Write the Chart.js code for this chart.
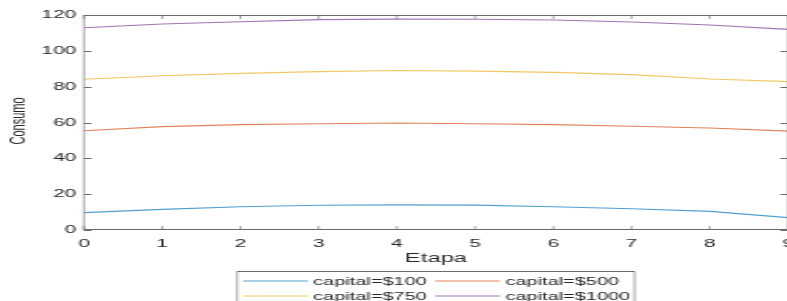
<!DOCTYPE html>
<html>
<head>
<meta charset="utf-8">
<script src="https://cdn.jsdelivr.net/npm/chart.js@4.4.1/dist/chart.umd.min.js"></script>
<style>
  html, body { margin: 0; padding: 0; background: #fff; overflow: hidden; }
  #wrap { width: 787px; height: 301px; overflow: hidden; }
  /* the original figure is stretched sideways, so draw narrow and stretch */
  #myChart { display: block; transform: scaleX(1.9); transform-origin: 0 0; }
</style>
</head>
<body>
<div id="wrap"><canvas id="myChart" width="420" height="301"></canvas></div>
<script>
// values
const etapas = [0, 1, 2, 3, 4, 5, 6, 7, 8, 9];
const consumo100 = [9.7, 11.5, 13.0, 13.8, 14.0, 13.9, 13.0, 11.9, 10.4, 6.9];
const consumo500 = [55.4, 57.7, 58.8, 59.3, 59.7, 59.3, 58.8, 57.9, 56.9, 55.2];
const consumo750 = [84.1, 86.1, 87.4, 88.4, 89.0, 88.7, 88.0, 86.7, 84.3, 82.8];
const consumo1000 = [112.9, 115.0, 116.2, 117.4, 117.7, 117.6, 117.2, 116.1, 114.4, 112.0];
const yTicks = [0, 20, 40, 60, 80, 100, 120];

const axisColor = '#6a6a6a';
const textColor = '#262626';
const fontFam = '"Liberation Sans", Arial, sans-serif';

function pts(vals) {
  return etapas.map(function(x, i) { return {x: x, y: vals[i]}; });
}

const data = {
  datasets: [
    {label: 'capital=$100', data: pts(consumo100), borderColor: '#4f9fd2'},
    {label: 'capital=$500', data: pts(consumo500), borderColor: '#e2825c'},
    {label: 'capital=$750', data: pts(consumo750), borderColor: '#f0c862'},
    {label: 'capital=$1000', data: pts(consumo1000), borderColor: '#a374b3'}
  ]
};

// matlab style box, inward ticks, axis titles and legend
const matlabBox = {
  id: 'matlabBox',
  afterDraw(chart) {
    const ctx = chart.ctx;
    const a = chart.chartArea;
    const xs = chart.scales.x, ys = chart.scales.y;
    ctx.save();
    ctx.strokeStyle = axisColor;

    // horizontal edges + y ticks
    ctx.lineWidth = 1;
    ctx.beginPath();
    ctx.moveTo(a.left, a.top + 0.5); ctx.lineTo(a.right, a.top + 0.5);
    ctx.moveTo(a.left, a.bottom - 0.5); ctx.lineTo(a.right, a.bottom - 0.5);
    yTicks.forEach(function(v) {
      const py = Math.round(ys.getPixelForValue(v)) + 0.5;
      ctx.moveTo(a.left, py); ctx.lineTo(a.left + 4, py);
      ctx.moveTo(a.right, py); ctx.lineTo(a.right - 4, py);
    });
    ctx.stroke();

    // vertical edges + x ticks
    ctx.lineWidth = 0.6;
    ctx.beginPath();
    ctx.moveTo(a.left, a.top); ctx.lineTo(a.left, a.bottom);
    ctx.moveTo(a.right, a.top); ctx.lineTo(a.right, a.bottom);
    etapas.forEach(function(v) {
      const px = xs.getPixelForValue(v);
      ctx.moveTo(px, a.bottom); ctx.lineTo(px, a.bottom - 4);
      ctx.moveTo(px, a.top); ctx.lineTo(px, a.top + 4);
    });
    ctx.stroke();

    // axis titles
    ctx.fillStyle = textColor;
    ctx.font = '12.5px ' + fontFam;
    ctx.textAlign = 'center';
    ctx.textBaseline = 'alphabetic';
    ctx.fillText('Etapa', (a.left + a.right) / 2, 261.5);

    ctx.save();
    ctx.translate(13.2, 121);
    ctx.rotate(-Math.PI / 2);
    ctx.font = '11px ' + fontFam;
    ctx.fillText('Consumo', 0, 0);
    ctx.restore();

    // legend box, two columns
    ctx.strokeStyle = '#6a6a6a';
    ctx.lineWidth = 0.6;
    ctx.beginPath();
    ctx.moveTo(124.8, 310); ctx.lineTo(124.8, 271.5);
    ctx.moveTo(334, 271.5); ctx.lineTo(334, 310);
    ctx.stroke();
    ctx.lineWidth = 1;
    ctx.beginPath();
    ctx.moveTo(124.8, 271.5); ctx.lineTo(334, 271.5);
    ctx.stroke();

    const cols = [[128, 162, 164.8], [229, 263, 266]];
    const rows = [[281, 285.2], [296, 299.8]];
    ctx.font = '10.5px ' + fontFam;
    ctx.textAlign = 'left';
    chart.data.datasets.forEach(function(ds, i) {
      const c = cols[i % 2], r = rows[Math.floor(i / 2)];
      ctx.strokeStyle = ds.borderColor;
      ctx.beginPath();
      ctx.moveTo(c[0], r[0]); ctx.lineTo(c[1], r[0]);
      ctx.stroke();
      ctx.fillStyle = textColor;
      ctx.fillText(ds.label, c[2], r[1]);
    });
    ctx.restore();
  }
};

var ctx = document.getElementById('myChart').getContext('2d');
var myChart = new Chart(ctx, {
  type: 'line',
  data: data,
  options: {
    responsive: false,
    animation: false,
    devicePixelRatio: 1,
    elements: {
      point: {radius: 0},
      line: {borderWidth: 1.1, tension: 0, fill: false}
    },
    layout: {padding: {top: 15, right: 5.3, left: 0, bottom: 0}},
    scales: {
      x: {
        type: 'linear',
        min: 0, max: 9,
        grid: {display: false, drawTicks: false},
        border: {display: false},
        ticks: {
          stepSize: 1, padding: 7, color: textColor,
          font: {family: fontFam, size: 11}
        },
        afterFit: function(scale) {
          scale.height = 71;
          scale.paddingLeft = 0;
          scale.paddingRight = 0;
        }
      },
      y: {
        min: 0, max: 120,
        grid: {display: false, drawTicks: false},
        border: {display: false},
        ticks: {
          stepSize: 20, padding: 4, color: textColor,
          font: {family: fontFam, size: 11}
        },
        afterFit: function(scale) { scale.width = 44.2; }
      }
    },
    plugins: {
      legend: {display: false},
      tooltip: {enabled: false}
    }
  },
  plugins: [matlabBox]
});
</script>
</body>
</html>
